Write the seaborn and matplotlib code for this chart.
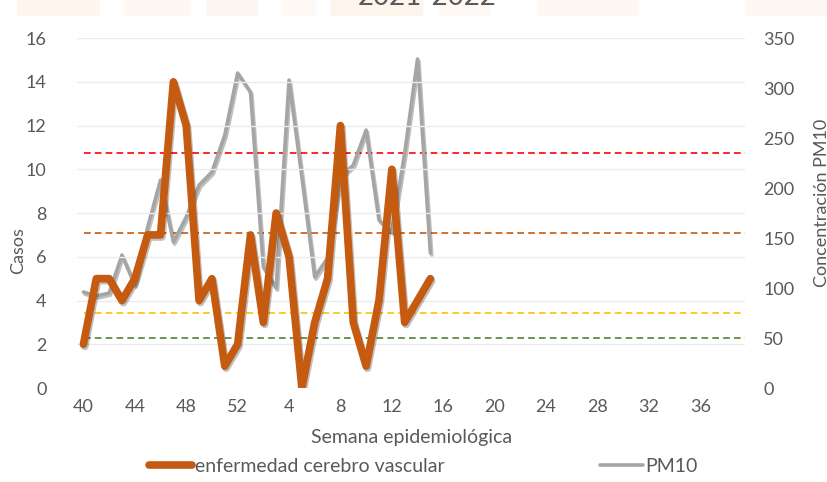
import numpy as np
import pandas as pd
import matplotlib
matplotlib.use("Agg")
import matplotlib.pyplot as plt
import matplotlib.patheffects as pe
from matplotlib.patches import Rectangle
import seaborn as sns

# epidemiological weeks 40-52 (2021) and 1-39 (2022)
weeks = list(range(40, 53)) + list(range(1, 40))

# weekly cases, weeks 40/2021 to 15/2022
casos = [2, 5, 5, 4, 5, 7, 7, 14, 12, 4, 5, 1, 2, 7, 3, 8, 6, 0, 3, 5,
         12, 3, 1, 4, 10, 3, 4, 5]

# PM10 concentration, same weeks
pm10 = [96, 92, 95, 133, 103, 161, 208, 146, 171, 203, 216, 253, 315, 296,
        121, 100, 308, 211, 111, 130, 211, 223, 258, 168, 156, 235, 329, 135]

# reference levels of PM10
niveles = [235, 155, 75, 50]
colores_niveles = ["#FF0000", "#C55A11", "#FFC000", "#548235"]

df = pd.DataFrame({"idx": np.arange(len(casos)), "casos": casos, "pm10": pm10})

sns.set_style("white")
plt.rcParams["font.family"] = ["Lato", "DejaVu Sans"]

fig = plt.figure(figsize=(8.28, 4.82), dpi=100)
ax = fig.add_axes([0.093, 0.195, 0.807, 0.726])
ax2 = ax.twinx()

# faint image strip at the top
for x0, w, c in [(0.02, 0.10, "#FDF5EE"), (0.15, 0.08, "#FEF7F2"),
                 (0.25, 0.06, "#FDF6F0"), (0.34, 0.04, "#FEF9F5"),
                 (0.40, 0.11, "#FDF4EC"), (0.53, 0.06, "#FEF9F5"),
                 (0.65, 0.12, "#FEF8F3"), (0.90, 0.10, "#FEF7F2")]:
    fig.patches.append(Rectangle((x0, 0.969), w, 0.031, transform=fig.transFigure,
                                 color=c, zorder=0))

fig.text(0.516, 1 - 5 / 482, "2021-2022", ha="center", va="baseline", fontsize=20,
         color="#595959")

shadow = [pe.SimpleLineShadow(offset=(1, -1.5), alpha=0.25, shadow_color="black"),
          pe.Normal()]
ax.set_zorder(ax2.get_zorder() + 1)
ax.patch.set_visible(False)

# reference levels drawn on the PM10 axis
for nivel, c in zip(niveles, colores_niveles):
    ax2.axhline(nivel, xmin=0.01, xmax=1, color=c, lw=1.2, ls=(0, (4, 2.5)))

sns.lineplot(data=df, x="idx", y="pm10", ax=ax2, color="#A5A5A5", lw=2.6,
             path_effects=shadow, legend=False)
sns.lineplot(data=df, x="idx", y="casos", ax=ax, color="#C55A11", lw=5.5,
             path_effects=shadow, legend=False)

ax.set_xlim(-0.5, len(weeks) - 0.5)
ax.set_ylim(0, 16)
ax.set_yticks(range(0, 17, 2))
ax2.set_ylim(0, 350)
ax2.set_yticks(range(0, 351, 50))
ax.set_xticks(range(0, 49, 4))
ax.set_xticklabels([str(weeks[i]) for i in range(0, 49, 4)])

ax.grid(axis="y", color="#EBEBEB", lw=1)
ax.grid(axis="x", visible=False)
ax2.grid(False)
for a in (ax, ax2):
    for s in a.spines.values():
        s.set_visible(False)
    a.tick_params(length=0, labelsize=13, colors="#595959")
ax.tick_params(axis="y", pad=22)
ax.tick_params(axis="x", pad=8)
ax2.tick_params(axis="y", pad=13)

ax.set_xlabel("Semana epidemiológica", fontsize=14, color="#595959", labelpad=10)
ax.set_ylabel("")
ax2.set_ylabel("")
fig.text(0.022, 1 - 251 / 482, "Casos", rotation=90, ha="center", va="center",
         fontsize=13, color="#595959")
fig.text(0.993, 1 - 203 / 482, "Concentración PM10", rotation=90, ha="center",
         va="center", fontsize=13, color="#595959")

h1 = plt.Line2D([], [], color="#C55A11", lw=5.5, solid_capstyle="round")
h2 = plt.Line2D([], [], color="#A5A5A5", lw=2.6)
fig.legend([h1, h2], ["enfermedad cerebro vascular", "PM10"], ncol=2,
           loc="center left", bbox_to_anchor=(0.18, 1 - 466 / 482), frameon=False,
           fontsize=14, labelcolor="#595959", handlelength=2.2, handletextpad=0.15,
           columnspacing=8.0, borderpad=0, borderaxespad=0)

fig.savefig("out.png", dpi=100)
